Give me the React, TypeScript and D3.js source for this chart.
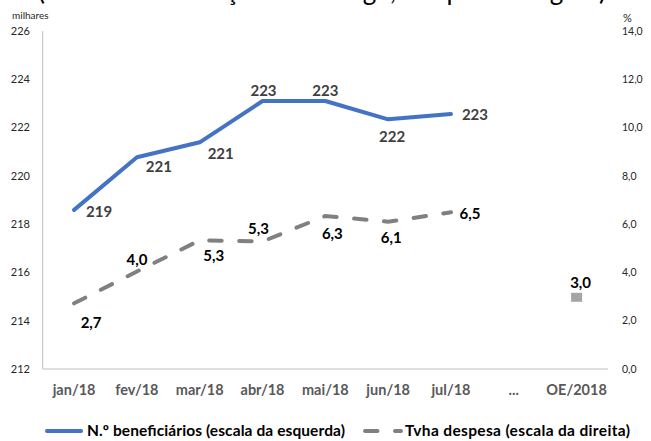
import React from "react";
import * as d3 from "d3";

const categories = ["jan/18", "fev/18", "mar/18", "abr/18", "mai/18", "jun/18", "jul/18", "...", "OE/2018"];
const beneficiarios = [218.59, 220.77, 221.39, 223.1, 223.1, 222.34, 222.56];
const despesa = [2.72, 4.04, 5.33, 5.28, 6.34, 6.1, 6.49];
const oeValue = 2.97;
const leftTicks = [212, 214, 216, 218, 220, 222, 224, 226];
const rightTicks = [0, 2, 4, 6, 8, 10, 12, 14];
const titleText = "(Número e variação homóloga, em percentagem)";
const legendLabels = ["N.º beneficiários (escala da esquerda)", "Tvha despesa (escala da direita)"];

// label offsets (layout), dx, dy relative to the point (text centre)
const blueOffsets: [number, number][] = [[25, 2], [22, 9], [21, 11], [1, -10], [0, -10], [4, 17], [24, 1]];
const greyOffsets: [number, number][] = [[17, 19], [0, -12], [14, 15], [-4, -13], [7, 18], [3, 16], [19, 1]];

const W = 651, H = 441;
const left = 42.7, right = 608, top = 31, bottom = 369;
const FONT = "Lato, 'Open Sans', 'DejaVu Sans', sans-serif";

export default function App() {
  const x = d3.scaleBand<string>().domain(categories).range([left, right]).padding(0);
  const cx = (c: string) => (x(c) as number) + x.bandwidth() / 2;
  const yL = d3.scaleLinear().domain([212, 226]).range([bottom, top]);
  const yR = d3.scaleLinear().domain([0, 14]).range([bottom, top]);

  const blueLine = d3.line<number>().x((_, i) => cx(categories[i])).y((d) => yL(d))(beneficiarios) || "";
  const greyLine = d3.line<number>().x((_, i) => cx(categories[i])).y((d) => yR(d))(despesa) || "";
  const fmt0 = d3.format(".0f");
  const fmt1 = (v: number) => d3.format(".1f")(v).replace(".", ",");

  return (
    <svg width={W} height={H} style={{ position: "absolute", left: 0, top: 0, background: "#fff" }} fontFamily={FONT}>
      <rect x={0} y={0} width={W} height={H} fill="#fff" />
      <text x={38} y={0} fontSize={26} fill="#000" textLength={568} lengthAdjust="spacing">{titleText}</text>

      {/* axes */}
      <line x1={left} x2={left} y1={top} y2={bottom} stroke="#bfbfbf" strokeWidth={1} />
      <line x1={left} x2={right} y1={bottom} y2={bottom} stroke="#bfbfbf" strokeWidth={1} />

      <text x={12} y={19} fontSize={10} fill="#262626">milhares</text>
      {leftTicks.map((t) => (
        <text key={"l" + t} x={30} y={yL(t)} dy="0.35em" textAnchor="end" fontSize={11} fill="#262626">{t}</text>
      ))}
      <text x={623} y={22} fontSize={11} fill="#262626">%</text>
      {rightTicks.map((t) => (
        <text key={"r" + t} x={622} y={yR(t)} dy="0.35em" fontSize={10.5} fill="#262626">{fmt1(t)}</text>
      ))}

      {categories.map((c) => (
        <text key={c} x={cx(c)} y={390} dy="0.35em" textAnchor="middle" fontSize={14.5} fontWeight="bold" fill="#595959">{c}</text>
      ))}

      {/* series */}
      <path d={greyLine} fill="none" stroke="#808080" strokeWidth={4} strokeDasharray="12.5 17.5" strokeLinecap="round" />
      <path d={blueLine} fill="none" stroke="#4472C4" strokeWidth={4} strokeLinejoin="round" strokeLinecap="round" />
      <rect x={cx("OE/2018") - 5.5} y={yR(oeValue) - 4.5} width={11} height={9} fill="#A5A5A5" />

      {beneficiarios.map((v, i) => (
        <text key={"b" + i} x={cx(categories[i]) + blueOffsets[i][0]} y={yL(v) + blueOffsets[i][1]} dy="0.35em" textAnchor="middle" fontSize={15} fontWeight="bold" fill="#404040">{fmt0(v)}</text>
      ))}
      {despesa.map((v, i) => (
        <text key={"g" + i} x={cx(categories[i]) + greyOffsets[i][0]} y={yR(v) + greyOffsets[i][1]} dy="0.35em" textAnchor="middle" fontSize={15} fontWeight="bold" fill="#000">{fmt1(v)}</text>
      ))}
      <text x={cx("OE/2018") + 4} y={yR(oeValue) - 15} dy="0.35em" textAnchor="middle" fontSize={15} fontWeight="bold" fill="#000">{fmt1(oeValue)}</text>

      {/* legend */}
      <line x1={47} x2={81} y1={431} y2={431} stroke="#4472C4" strokeWidth={4} strokeLinecap="round" />
      <text x={87} y={431} dy="0.35em" fontSize={15.5} fontWeight="bold" fill="#000" textLength={258} lengthAdjust="spacing">{legendLabels[0]}</text>
      <line x1={365} x2={401} y1={431} y2={431} stroke="#808080" strokeWidth={4} strokeDasharray="12.5 17.5" strokeLinecap="round" />
      <text x={405} y={431} dy="0.35em" fontSize={15.5} fontWeight="bold" fill="#000" textLength={225} lengthAdjust="spacing">{legendLabels[1]}</text>
    </svg>
  );
}
